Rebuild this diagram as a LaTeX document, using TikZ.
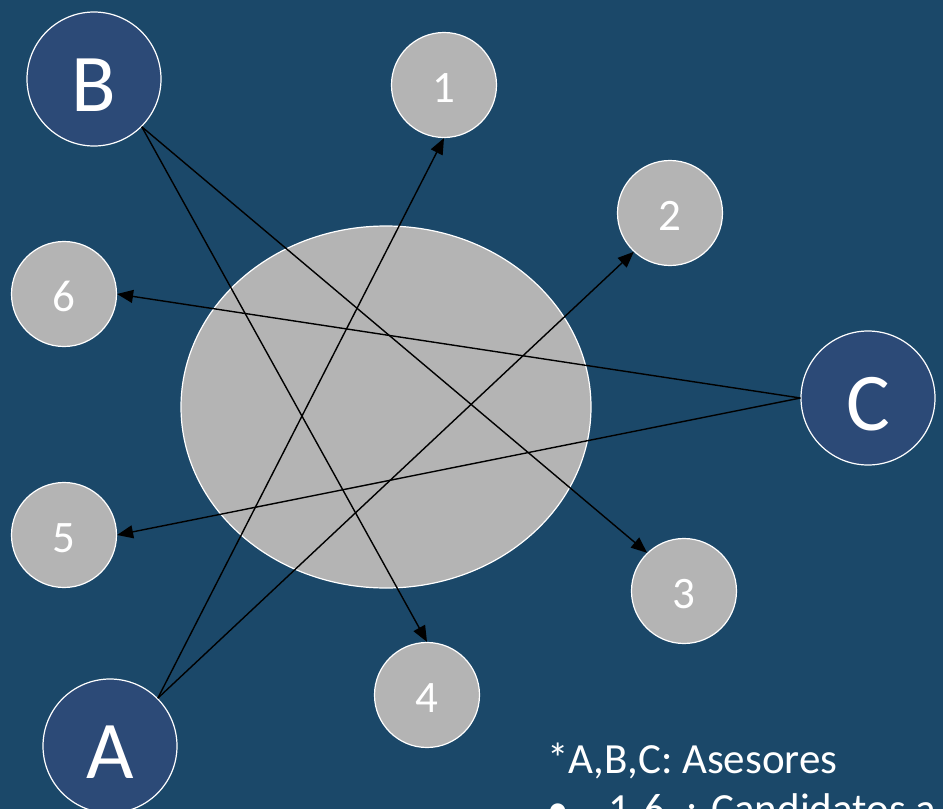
\documentclass[tikz,border=0pt]{standalone}
\usepackage{fontspec}
\setmainfont{Carlito}
\usetikzlibrary{arrows.meta,shapes.geometric}
\definecolor{bgblue}{RGB}{27,72,105}
\definecolor{advblue}{RGB}{44,74,119}
\definecolor{candgrey}{RGB}{180,180,180}
\tikzset{
  advisor/.style={circle,draw=white,line width=1.2pt,fill=advblue,minimum size=134pt,inner sep=0pt,text=white,font=\fontsize{82}{90}\selectfont,text height=65pt,text depth=0pt},
  candidate/.style={circle,draw=white,line width=1.2pt,fill=candgrey,minimum size=105pt,inner sep=0pt,text=white,font=\fontsize{45}{50}\selectfont,text height=35pt,text depth=0pt},
  centre/.style={ellipse,draw=white,line width=1.2pt,fill=candgrey,minimum width=410pt,minimum height=362pt,inner sep=0pt},
  link/.style={draw=black,line width=1.4pt,-{Triangle[length=16pt,width=13pt]}},
  note/.style={anchor=base west,text=white,inner sep=0pt,font=\fontsize{43}{50}\selectfont}
}
\begin{document}
\begin{tikzpicture}[x=1pt,y=-1pt]
\useasboundingbox (0,0) rectangle (943,809);
\clip (0,0) rectangle (943,809);
\fill[bgblue] (0,0) rectangle (943,809);
\node[centre] (E) at (386,407) {};
\node[advisor] (B) at (94,79) {B};
\node[advisor] (C) at (868,398) {C};
\node[advisor] (A) at (110,746) {A};
\node[candidate] (n1) at (444,85) {1};
\node[candidate] (n2) at (670,213) {2};
\node[candidate] (n3) at (684,591) {3};
\node[candidate] (n4) at (427,695) {4};
\node[candidate] (n5) at (64,535) {5};
\node[candidate] (n6) at (64,294) {6};
\draw[link] (B.-45) -- (n3.134);
\draw[link] (B.-45) -- (n4.north);
\draw[link] (A.45) -- (n1.south);
\draw[link] (A.45) -- (n2.-133);
\draw[link] (C.west) -- (n6.east);
\draw[link] (C.west) -- (n5.east);
\node[note] (t1) at (547,773) {*A,B,C: Asesores};
\node[note] (t2) at (547,823) {\makebox[61pt][l]{•}1-6\hspace{22pt}: Candidatos a};
\end{tikzpicture}
\end{document}
